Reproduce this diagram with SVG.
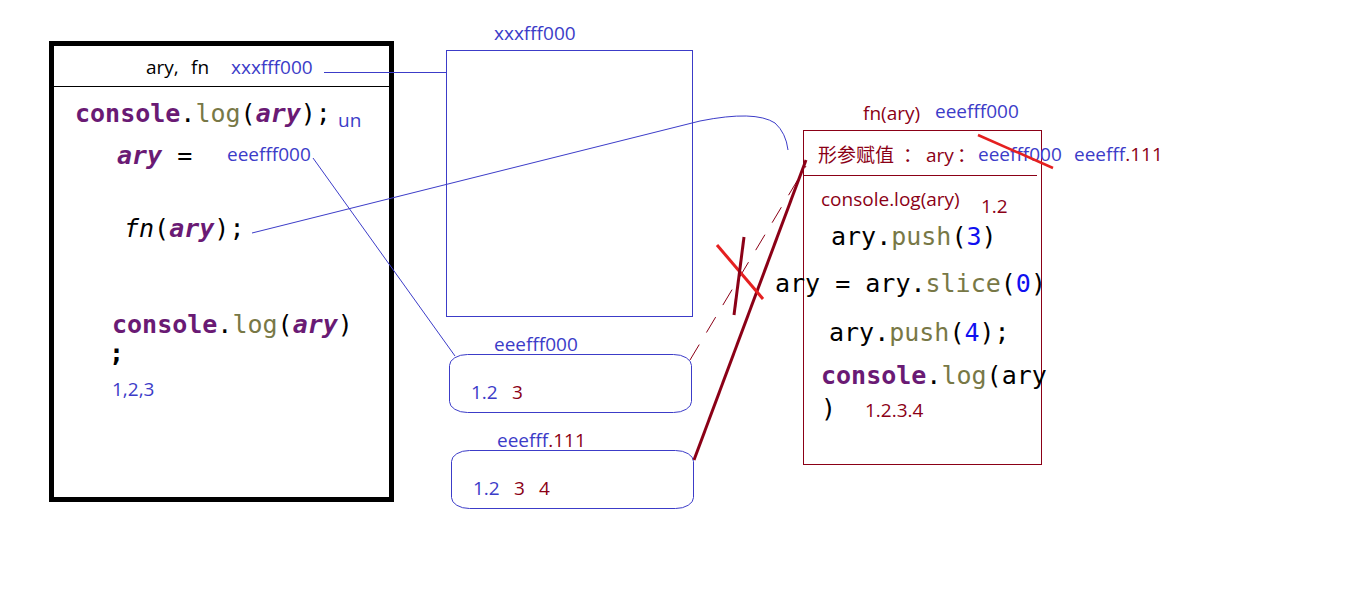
<svg xmlns="http://www.w3.org/2000/svg" width="1360" height="591" viewBox="0 0 1360 591">
<style>
.s{font-family:"Open Sans","Noto Sans CJK SC",sans-serif;font-size:19px}
.m{font-family:"DejaVu Sans Mono","Liberation Mono",monospace;font-size:25px;fill:#000}
.b{fill:#3c3cc8}
.r{fill:#8b0016}
.k{fill:#000}
.kw{fill:#6a1a74;font-weight:bold}
.fn{fill:#787846}
.v{fill:#6a1a74;font-weight:bold;font-style:italic}
.n{fill:#1010f0}
.bl{fill:none;stroke:#3c3cc8;stroke-width:1}
.rl{fill:none;stroke:#8b0016;stroke-width:1}
</style>
<rect width="1360" height="591" fill="#fff"/>
<g id="global-scope">
<rect x="51.5" y="43.5" width="340" height="456" fill="none" stroke="#000" stroke-width="5"/>
<line x1="54" y1="86.5" x2="389" y2="86.5" stroke="#000" stroke-width="1"/>
<text class="s k" x="146" y="74">ary,</text>
<text class="s k" x="191" y="74">fn</text>
<text class="s b" x="231" y="74">xxxfff000</text>
<text class="m" x="75" y="122"><tspan class="kw">console</tspan>.<tspan class="fn">log</tspan>(<tspan class="v">ary</tspan>);</text>
<text class="s b" x="338" y="127">un</text>
<text class="m" x="117" y="164"><tspan class="v">ary</tspan> =</text>
<text class="s b" x="227" y="161">eeefff000</text>
<text class="m" x="124" y="237"><tspan font-style="italic">fn</tspan>(<tspan class="v">ary</tspan>);</text>
<text class="m" x="112" y="333"><tspan class="kw">console</tspan>.<tspan class="fn">log</tspan>(<tspan class="v">ary</tspan>)</text>
<text class="m" x="109" y="362" font-weight="bold">;</text>
<text class="s b" x="112" y="396">1,2,3</text>
</g>
<g id="heap-xxxfff000">
<rect x="446.5" y="50.5" width="246" height="266" class="bl"/>
<text class="s b" x="494" y="40">xxxfff000</text>
</g>
<g id="heap-eeefff000">
<rect x="449.5" y="354.5" width="242" height="58" rx="18" ry="11" class="bl"/>
<text class="s b" x="494" y="351">eeefff000</text>
<text class="s b" x="471" y="399">1.2</text>
<text class="s r" x="512" y="399">3</text>
</g>
<g id="heap-eeefff111">
<rect x="451.5" y="450.5" width="242" height="58" rx="18" ry="11" class="bl"/>
<text class="s" x="497" y="447"><tspan class="b">eeefff</tspan><tspan class="r">.111</tspan></text>
<text class="s b" x="473" y="495">1.2</text>
<text class="s r" x="514" y="495">3</text>
<text class="s r" x="539" y="495">4</text>
</g>
<g id="fn-scope">
<rect x="803.5" y="130.5" width="238" height="334" class="rl"/>
<line x1="804" y1="175.5" x2="1037" y2="175.5" stroke="#8b0016" stroke-width="1"/>
<text class="s r" x="863" y="120">fn(ary)</text>
<text class="s b" x="935" y="118">eeefff000</text>
<text class="s r" x="818" y="162">形参赋值</text>
<text class="s r" x="903" y="162">：</text>
<text class="s r" x="926" y="162">ary</text>
<text class="s r" x="957" y="162">：</text>
<text class="s b" x="978" y="161">eeefff000</text>
<text class="s" x="1074" y="161"><tspan class="b">eeefff</tspan><tspan class="r">.111</tspan></text>
<text class="s r" x="821" y="206">console.log(ary)</text>
<text class="s r" x="981" y="213">1.2</text>
<text class="m" x="831" y="245">ary.<tspan class="fn">push</tspan>(<tspan class="n">3</tspan>)</text>
<text class="m" x="775" y="292">ary = ary.<tspan class="fn">slice</tspan>(<tspan class="n">0</tspan>)</text>
<text class="m" x="829" y="341">ary.<tspan class="fn">push</tspan>(<tspan class="n">4</tspan>);</text>
<text class="m" x="821" y="384"><tspan class="kw">console</tspan>.<tspan class="fn">log</tspan>(ary</text>
<text class="m" x="821" y="417">)</text>
<text class="s r" x="865" y="417">1.2.3.4</text>
</g>
<g id="connectors">
<line x1="324" y1="72.5" x2="446" y2="72.5" class="bl"/>
<path d="M252,233 L700,121 Q755,110 775,123 Q786,133 788,150" class="bl"/>
<line x1="313" y1="158" x2="455" y2="356" class="bl"/>
<line x1="690" y1="360" x2="806" y2="166" stroke="#8b0016" stroke-width="1" stroke-dasharray="18,14"/>
<line x1="694" y1="460" x2="806" y2="160" stroke="#8b0016" stroke-width="3"/>
<line x1="978" y1="135" x2="1053" y2="168" stroke="#e52020" stroke-width="2.5"/>
<line x1="717" y1="245" x2="763" y2="299" stroke="#e52020" stroke-width="3"/>
<line x1="744" y1="237" x2="734" y2="315" stroke="#8b0016" stroke-width="3"/>
</g>
</svg>
